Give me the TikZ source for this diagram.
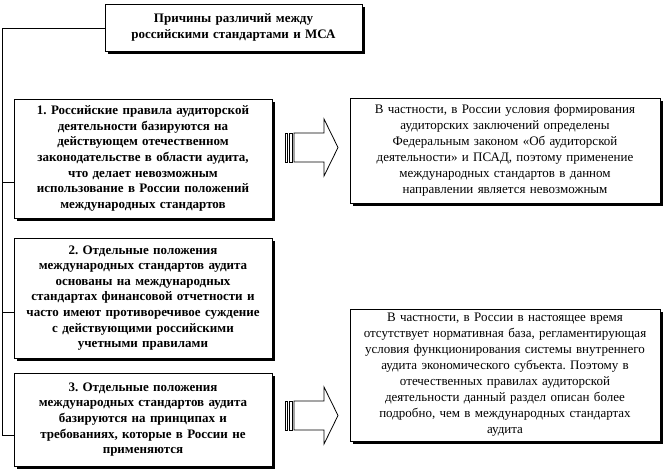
\documentclass[tikz,border=0pt]{standalone}
\usepackage{fontspec}
\setmainfont{Liberation Serif}
\usetikzlibrary{shadows}
\frenchspacing
\begin{document}
\begin{tikzpicture}[x=1pt,y=-1pt,
  box/.style={draw=black, line width=1pt, fill=white, inner sep=0pt, align=center,
    font=\fontsize{13}{16}\selectfont,
    drop shadow={shadow xshift=3pt, shadow yshift=-3pt, fill=black, opacity=1}},
  lbox/.style={box, font=\bfseries\fontsize{13}{15.6}\selectfont},
  link/.style={draw=black, line width=1pt},
  fatarrow/.style={draw=black, line width=0.8pt, fill=white}]
\useasboundingbox (0,0) rectangle (665,474);

\node[lbox, minimum width=257pt, minimum height=47pt, text width=255pt] (top) at (233.5,27.5)
  {Причины различий между\\российскими стандартами и МСА};

\node[lbox, minimum width=258pt, minimum height=119pt, text width=256pt] (l1) at (143,158.5)
  {1. Российские правила аудиторской\\деятельности базируются на\\действующем отечественном\\законодательстве в области аудита,\\что делает невозможным\\использование в России положений\\международных стандартов};

\node[lbox, minimum width=258pt, minimum height=120pt, text width=256pt] (l2) at (143,298)
  {2. Отдельные положения\\международных стандартов аудита\\основаны на международных\\стандартах финансовой отчетности и\\часто имеют противоречивое суждение\\с действующими российскими\\учетными правилами};

\node[lbox, minimum width=258pt, minimum height=93pt, text width=256pt] (l3) at (143,419.5)
  {3. Отдельные положения\\международных стандартов аудита\\базируются на принципах и\\требованиях, которые в России не\\применяются};

\node[box, minimum width=310pt, minimum height=105pt, text width=306pt] (r1) at (505,150.5)
  {В частности, в России условия формирования\\аудиторских заключений определены\\Федеральным законом «Об аудиторской\\деятельности» и ПСАД, поэтому применение\\международных стандартов в данном\\направлении является невозможным};

\node[box, minimum width=310pt, minimum height=132pt, text width=306pt] (r2) at (505,375)
  {В частности, в России в настоящее время\\отсутствует нормативная база, регламентирующая\\условия функционирования системы внутреннего\\аудита экономического субъекта. Поэтому в\\отечественных правилах аудиторской\\деятельности данный раздел описан более\\подробно, чем в международных стандартах\\аудита};

% trunk connector
\coordinate (c0) at (2,28);
\coordinate (j1) at (2,182);
\coordinate (j2) at (2,312);
\coordinate (j3) at (2,435);
\draw[link] (top.west |- c0) -- (c0) -- (j3) -- (j3 -| l3.west);
\draw[link] (j1) -- (j1 -| l1.west);
\draw[link] (j2) -- (j2 -| l2.west);

% striped arrows
\foreach \m in {147.5,415.5}{
  \draw[fatarrow] (285,\m-14.5) rectangle (287,\m+14.5);
  \draw[fatarrow] (289,\m-14.5) rectangle (292,\m+14.5);
  \draw[fatarrow] (294,\m-14.5) -- (324,\m-14.5) -- (324,\m-28.5) -- (338,\m)
     -- (324,\m+28.5) -- (324,\m+14.5) -- (294,\m+14.5) -- cycle;
}
\end{tikzpicture}
\end{document}
